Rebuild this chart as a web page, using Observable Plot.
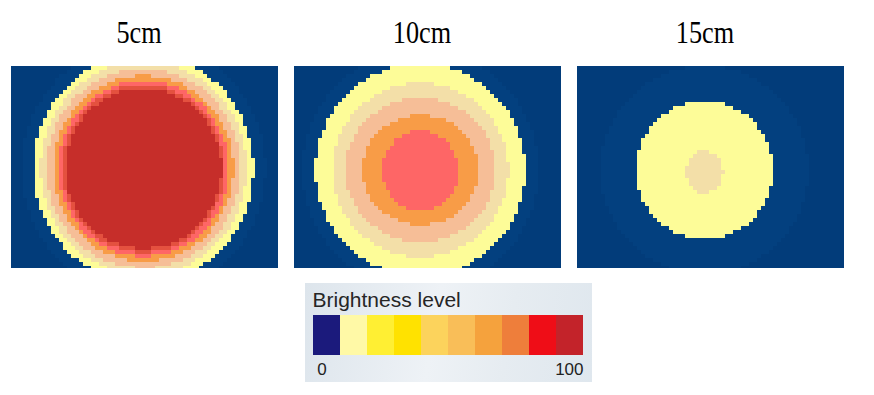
<!DOCTYPE html>
<html><head><meta charset="utf-8">
<script src="https://cdn.jsdelivr.net/npm/d3@7"></script>
<script src="https://cdn.jsdelivr.net/npm/@observablehq/plot@0.6"></script>
<style>
html,body{margin:0;padding:0;background:#fff}
body{width:874px;height:395px;position:relative;overflow:hidden;font-family:"Liberation Sans",sans-serif}
#main{position:absolute;left:0;top:0}
#legend{position:absolute;left:305px;top:283px}
</style></head><body>
<div id="main"></div><div id="legend"></div>
<script>
// ---- data ----
const panels = ["5cm", "10cm", "15cm"];
const levels = ["blue1", "blue2", "yellow", "tan", "peach", "orange", "salmon", "darksalmon", "darkred"];
const levelColors = ["#023C7A", "#03407F", "#FDFC98", "#F3DFA8", "#F6BE97", "#F89C47", "#FE6666", "#E4513F", "#C62E2A"];

// concentric brightness zones per panel (panel-local pixel units, panel = 267 x 202), outer -> inner
const ringPanel = ["5cm","5cm","5cm","5cm","5cm","5cm","5cm","5cm",
                   "10cm","10cm","10cm","10cm","10cm","10cm",
                   "15cm","15cm","15cm"];
const ringLevel = ["blue2","yellow","tan","peach","orange","salmon","darksalmon","darkred",
                   "blue2","yellow","tan","peach","orange","salmon",
                   "blue2","yellow","tan"];
const ringCx = [132.5,132.5,132.5,132.5,132.5,132.5,132.5,132.5,
                126.5,126.5,126.5,126.5,126.5,126.5,
                127.5,127.5,127.5];
const ringCy = [102.5,102.5,102.5,102.5,102.5,102.5,102.5,102.5,
                104,104,104,104,104,104.5,
                104,104,106];
const ringRx = [122,110,103,97,90,85,81,78,
                118,105,88,75,58,38,
                104,68.5,18.5];
const ringRy = [126,114,107,100,93,88,84,80,
                120,106,87,72,55,40,
                104,69,21];

const legendTitle = "Brightness level";
const legendColors = ["#1B1A7C","#FFF9A6","#FFEF33","#FFE200","#FCD35C","#F9BE58","#F5A23D","#EE7E3B","#EF0D17","#C3232A"];
const legendTickLabels = ["0", "100"];

// ---- build pixel cells from zones ----
const rings = ringPanel.map((p, k) => ({panel: p, level: ringLevel[k], cx: ringCx[k], cy: ringCy[k], rx: ringRx[k], ry: ringRy[k]}));
const CELL = 4, NX = 67, NY = 51;
const cells = [];
for (const p of panels) {
  const pr = rings.filter(r => r.panel === p);
  for (let j = 0; j < NY; j++) {
    let run = null;
    for (let i = 0; i < NX; i++) {
      const x = i * CELL + CELL / 2, y = j * CELL + CELL / 2;
      let lev = levels[0];
      for (const r of pr) if (((x - r.cx) / r.rx) ** 2 + ((y - r.cy) / r.ry) ** 2 <= 1) lev = r.level;
      if (run && run.level === lev) run.x2 = (i + 1) * CELL;
      else { run = {panel: p, level: lev, x1: i * CELL, x2: (i + 1) * CELL, y1: j * CELL, y2: (j + 1) * CELL}; cells.push(run); }
    }
  }
}

const main = Plot.plot({
  width: 874, height: 270,
  marginTop: 66, marginBottom: 2, marginLeft: 11, marginRight: 30,
  fx: {domain: panels, paddingInner: 16 / 283, paddingOuter: 0},
  x: {domain: [0, 267], axis: null},
  y: {domain: [0, 202], reverse: true, axis: null},
  color: {type: "ordinal", domain: levels, range: levelColors},
  marks: [
    Plot.rect(cells, {fx: "panel", x1: "x1", x2: "x2", y1: "y1", y2: "y2", fill: "level", shapeRendering: "crispEdges", clip: true}),
    Plot.axisFx({anchor: "top", tickSize: 0, tickPadding: 24, fontSize: 32, fontFamily: "Liberation Serif", fill: "#000", label: null, dx: -6})
  ]
});
document.getElementById("main").appendChild(main);
d3.select(main).selectAll('g[aria-label="fx-axis tick label"] text').each(function () {
  const t = this.getAttribute("transform") || "";
  this.setAttribute("transform", t + " scale(0.82,1)");
});

const legend = Plot.plot({
  width: 287, height: 99,
  marginTop: 32, marginBottom: 27, marginLeft: 7, marginRight: 9,
  x: {type: "band", domain: d3.range(legendColors.length), padding: 0, axis: null},
  y: {axis: null},
  color: {type: "identity"},
  style: {background: "linear-gradient(100deg, #dde5ec 0%, #eef2f6 45%, #e6ecf1 70%, #dfe7ee 100%)", overflow: "visible"},
  marks: [
    Plot.cell(legendColors, {x: (d, i) => i, fill: d => d, shapeRendering: "crispEdges"}),
    Plot.text([legendTitle], {frameAnchor: "top-left", textAnchor: "start", lineAnchor: "bottom", dy: -9, fontSize: 21, fontFamily: "Liberation Sans", fill: "#262626"}),
    Plot.text([legendTickLabels[0]], {frameAnchor: "bottom-left", textAnchor: "middle", lineAnchor: "top", dx: 9.5, dy: 7, fontSize: 17, fontFamily: "Liberation Sans", fill: "#222"}),
    Plot.text([legendTickLabels[1]], {frameAnchor: "bottom-right", textAnchor: "end", lineAnchor: "top", dx: 0, dy: 7, fontSize: 17, fontFamily: "Liberation Sans", fill: "#222"})
  ]
});
document.getElementById("legend").appendChild(legend);
</script>
</body></html>
